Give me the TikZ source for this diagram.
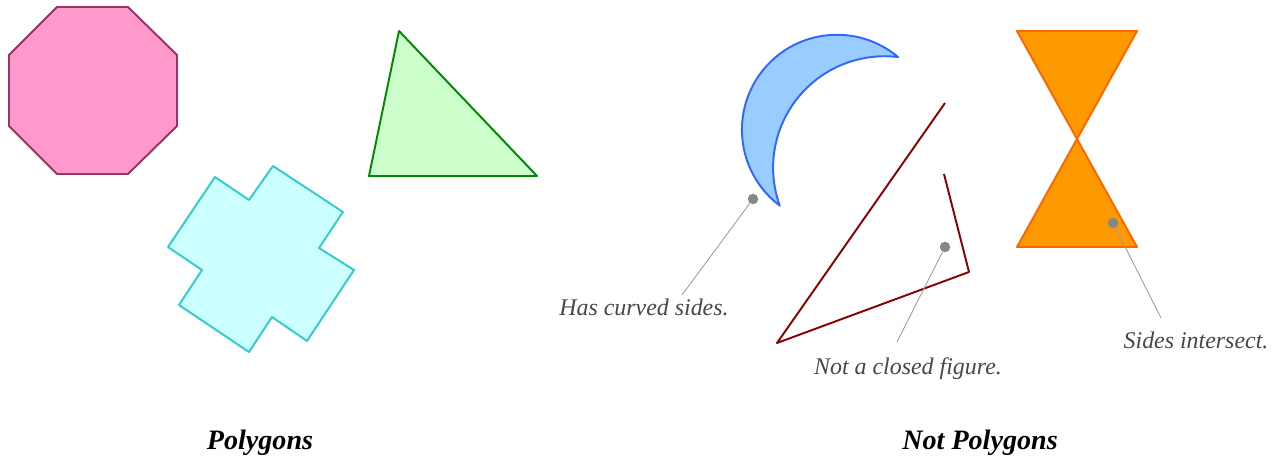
\documentclass[tikz,border=0pt]{standalone}
\usepackage{fontspec}
\setmainfont{Liberation Serif}

\begin{document}
\begin{tikzpicture}[x=0.02cm, y=0.02cm,
		fig/.style={line width=1.1pt, line join=round},
		note/.style={text=black!72, font=\fontsize{13.6}{16}\selectfont\itshape},
		heading/.style={font=\fontsize{16}{19}\selectfont\bfseries\itshape},
		dot/.style={circle, fill=black!47, inner sep=0pt, minimum size=0.21cm},
		leader/.style={black!38, line width=0.5pt}]
		\useasboundingbox (0, 0) rectangle (1284, 460);

		% polygons
		\draw [fig, draw={rgb,255:red,153;green,51;blue,102}, fill={rgb,255:red,255;green,153;blue,204}]
			(57, 453) -- (128, 453) -- (177, 405) -- (177, 334) -- (128, 286) -- (57, 286) -- (9, 334) -- (9, 405) -- cycle;
		\draw [fig, draw={rgb,255:red,51;green,204;blue,204}, fill={rgb,255:red,204;green,255;blue,255}]
			(273, 294) -- (343, 248) -- (319, 212) -- (354, 190) -- (307, 119) -- (272, 143)
			-- (249, 108) -- (179, 155) -- (202, 190) -- (168, 213) -- (215, 283) -- (249, 260) -- cycle;
		\draw [fig, draw={rgb,255:red,0;green,136;blue,0}, fill={rgb,255:red,204;green,255;blue,204}]
			(399, 429) -- (369, 284) -- (537, 284) -- cycle;

		% not polygons: crescent, open path, bow tie
		\draw [fig, draw={rgb,255:red,51;green,102;blue,255}, fill={rgb,255:red,153;green,204;blue,255}]
			(898, 403) arc [start angle=50, end angle=233, radius=95]
			arc [start angle=199.87, end angle=83.15, radius=111.5] -- cycle;
		\draw [fig, draw={rgb,255:red,136;green,0;blue,0}]
			(945, 357) -- (777, 117) -- (969, 188) -- (944, 286);
		\draw [fig, draw={rgb,255:red,255;green,102;blue,0}, fill={rgb,255:red,255;green,153;blue,0}]
			(1017, 429) -- (1137, 429) -- (1017, 213) -- (1137, 213) -- cycle;

		% callouts
		\node [note] (curved) at (644, 153) {Has curved sides.};
		\node [note] (open) at (908, 91) {Not a closed figure.};
		\node [note] (cross) at (1196, 120) {Sides intersect.};
		\coordinate (e1) at (682, 165);
		\coordinate (e2) at (897, 118);
		\coordinate (e3) at (1161, 142);
		\node [dot] (d1) at (753, 261) {};
		\node [dot] (d2) at (945, 213) {};
		\node [dot] (d3) at (1113, 237) {};
		\draw [leader] (d1) -- (e1);
		\draw [leader] (d2) -- (e2);
		\draw [leader] (d3) -- (e3);

		\node [heading] (yes) at (260, 17) {Polygons};
		\node [heading] (no) at (980, 17) {Not Polygons};
	\end{tikzpicture}
\end{document}
